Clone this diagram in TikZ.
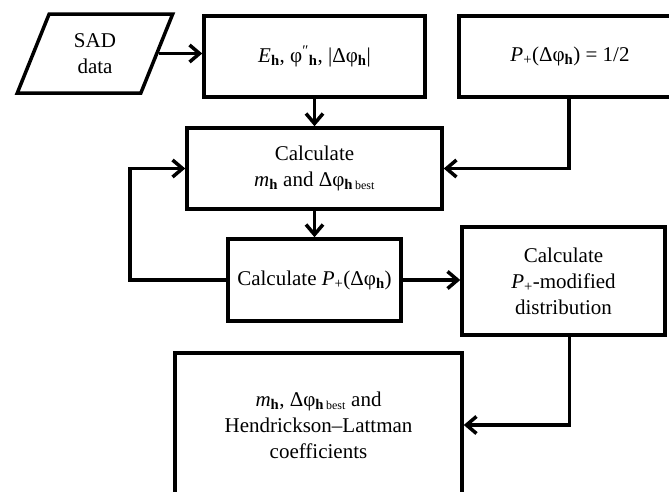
\documentclass[tikz,border=0pt]{standalone}
\usepackage{fontspec}
\setmainfont{Liberation Serif}
\usetikzlibrary{arrows.meta,shapes.geometric}
\newcommand{\hsub}{\textsubscript{\textbf{h}}}
\newcommand{\Pplus}{\textit{P}\textsubscript{+}}
\newcommand{\bestsub}{\textsubscript{\textbf{h}\,\fontsize{12}{12}\selectfont best}}
\tikzset{
  box/.style={draw, line width=3.5pt, rectangle, inner sep=0pt, align=center,
    font=\fontsize{21}{26}\selectfont},
  arr/.style={line width=3.5pt, -{Straight Barb[length=10pt,width=17pt]}},
  ln/.style={line width=3.5pt}
}
\begin{document}
\begin{tikzpicture}[x=1pt,y=-1pt]
\path[use as bounding box, clip] (0,0) rectangle (669,491);
\fill[white] (0,0) rectangle (669,491);
\node[box, trapezium, trapezium left angle=70, trapezium right angle=110,
  trapezium stretches=true, minimum width=156pt, minimum height=79pt]
  (sad) at (95,53.5) {SAD\\data};
\node[box, minimum width=221pt, minimum height=81pt] (e) at (314.5,56.5)
  {\textit{E}\hsub, φ\textsuperscript{″}\hsub, |Δφ\hsub|};
\node[box, minimum width=222pt, minimum height=81pt] (p) at (570,56.5)
  {\Pplus(Δφ\hsub) = 1/2};
\node[box, minimum width=255pt, minimum height=81pt] (calc) at (314.5,168.5)
  {Calculate\\\textit{m}\hsub{} and Δφ\bestsub};
\node[box, minimum width=173pt, minimum height=82pt] (cp) at (314.5,280)
  {Calculate \Pplus(Δφ\hsub)};
\node[box, minimum width=203pt, minimum height=108pt] (mod) at (563.5,281)
  {Calculate\\\Pplus-modified\\distribution};
\node[box, minimum width=287pt, minimum height=144pt] (res) at (318.5,425)
  {\textit{m}\hsub, Δφ\bestsub{} and\\Hendrickson–Lattman\\coefficients};
\coordinate (loop) at (130,280);
\draw[arr] (sad.east) -- (sad.east -| e.west);
\draw[arr] (e.south) -- (calc.north);
\draw[arr] ([xshift=-1pt]p.south) |- (calc.east);
\draw[arr] (calc.south) -- (cp.north);
\draw[arr] (cp.west) -- (loop) |- (calc.west);
\draw[arr] (cp.east) -- (cp.east -| mod.west);
\draw[arr] ([xshift=6pt]mod.south) |- (res.east);
\end{tikzpicture}
\end{document}
